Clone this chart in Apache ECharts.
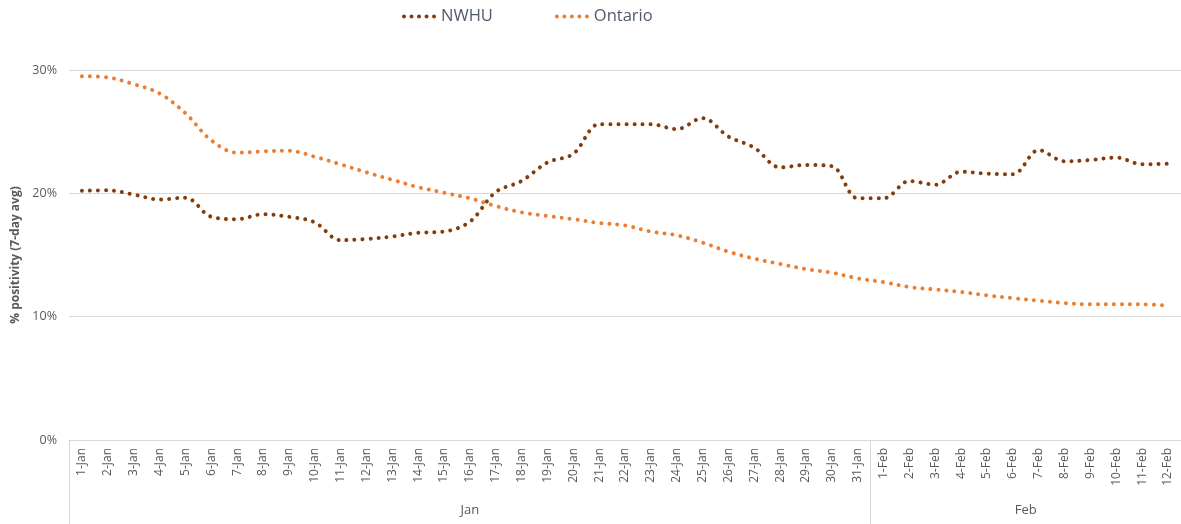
<!DOCTYPE html>
<html>
<head>
<meta charset="utf-8">
<script src="https://cdn.jsdelivr.net/npm/echarts@6/dist/echarts.min.js"></script>
<style>html,body{margin:0;padding:0;background:#fff}#c{width:1181px;height:524px}</style>
</head>
<body>
<div id="c"></div>
<script>
const categories = ['1-Jan','2-Jan','3-Jan','4-Jan','5-Jan','6-Jan','7-Jan','8-Jan','9-Jan','10-Jan',
  '11-Jan','12-Jan','13-Jan','14-Jan','15-Jan','16-Jan','17-Jan','18-Jan','19-Jan','20-Jan',
  '21-Jan','22-Jan','23-Jan','24-Jan','25-Jan','26-Jan','27-Jan','28-Jan','29-Jan','30-Jan','31-Jan',
  '1-Feb','2-Feb','3-Feb','4-Feb','5-Feb','6-Feb','7-Feb','8-Feb','9-Feb','10-Feb','11-Feb','12-Feb'];
const months = ['Jan', 'Feb'];
const monthDays = [31, 12];
const nwhu = [20.2, 20.25, 19.9, 19.5, 19.65, 18.1, 17.9, 18.3, 18.1, 17.65,
  16.2, 16.3, 16.5, 16.8, 16.9, 17.7, 20.1, 21.0, 22.5, 23.2,
  25.6, 25.6, 25.6, 25.2, 26.1, 24.6, 23.7, 22.1, 22.3, 22.2, 19.6,
  19.6, 21.0, 20.7, 21.75, 21.6, 21.55, 23.5, 22.6, 22.7, 22.9, 22.35, 22.4];
const ontario = [29.5, 29.4, 28.85, 28.1, 26.5, 24.3, 23.3, 23.4, 23.45, 22.97,
  22.35, 21.7, 21.1, 20.5, 20.05, 19.6, 18.97, 18.46, 18.16, 17.9,
  17.6, 17.4, 16.9, 16.6, 16.0, 15.27, 14.7, 14.27, 13.86, 13.57, 13.1,
  12.8, 12.4, 12.2, 12.0, 11.73, 11.5, 11.3, 11.1, 11.0, 11.0, 11.0, 10.9];
const yTicks = [0, 10, 20, 30];

// month boundaries and centres on a 0..N scale
const bounds = [0];
monthDays.forEach(d => bounds.push(bounds[bounds.length - 1] + d));
const centres = months.map((m, i) => (bounds[i] + bounds[i + 1]) / 2);

const chart = echarts.init(document.getElementById('c'));
const dot = (color) => ({ color: color, width: 4, type: [0.01, 8], cap: 'round' });
chart.setOption({
  animation: false,
  textStyle: { fontFamily: 'Open Sans' },
  legend: {
    top: 3, left: 397, itemWidth: 36, itemHeight: 10, itemGap: 62,
    itemStyle: { opacity: 0 },
    lineStyle: { width: 4, type: [0.01, 7.5], cap: 'round' },
    textStyle: { fontSize: 16.5, color: '#505a6b', fontFamily: 'Open Sans', padding: [0,0,0,-4] },
    data: ['NWHU', 'Ontario']
  },
  grid: { left: 69, right: 0, top: 70, height: 370, containLabel: false },
  xAxis: [{
    type: 'category', data: categories, boundaryGap: true,
    axisLine: { lineStyle: { color: '#d9d9d9' } },
    axisTick: { show: false },
    axisLabel: { interval: 0, rotate: 90, margin: 8, fontSize: 12, color: '#595959' }
  }, {
    type: 'value', position: 'bottom', min: 0, max: bounds[bounds.length - 1],
    axisLine: { show: false }, splitLine: { show: false },
    axisTick: { show: true, customValues: bounds, length: 84, lineStyle: { color: '#d9d9d9' } },
    axisLabel: {
      customValues: centres, margin: 64, fontSize: 13, color: '#595959',
      formatter: (v) => { const i = centres.indexOf(v); return i >= 0 ? months[i] : ''; }
    }
  }],
  yAxis: {
    type: 'value', min: yTicks[0], max: yTicks[yTicks.length - 1], interval: 10,
    name: '% positivity (7-day avg)', nameLocation: 'middle', nameGap: 47,
    nameTextStyle: { fontSize: 12, fontWeight: 'bold', color: '#595959' },
    axisLine: { show: false }, axisTick: { show: false },
    axisLabel: { formatter: '{value}%', fontSize: 12.5, color: '#595959', margin: 12 },
    splitLine: { lineStyle: { color: '#d9d9d9' } }
  },
  series: [{
    name: 'NWHU', type: 'line', data: nwhu, smooth: 0.35, showSymbol: false, symbol: 'none',
    itemStyle: { color: '#843C0C' }, lineStyle: dot('#843C0C')
  }, {
    name: 'Ontario', type: 'line', data: ontario, smooth: 0.35, showSymbol: false, symbol: 'none',
    itemStyle: { color: '#ED7D31' }, lineStyle: dot('#ED7D31')
  }]
});
</script>
</body>
</html>
